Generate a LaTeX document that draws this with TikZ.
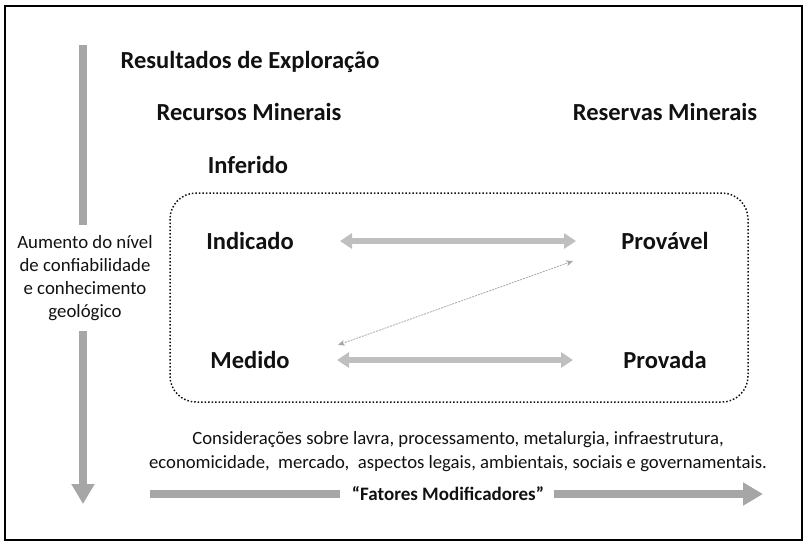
\documentclass[tikz,border=0pt]{standalone}
\usepackage{fontspec}
\setmainfont{Carlito}
\usetikzlibrary{arrows.meta}
\definecolor{arrowgray}{HTML}{A6A6A6}
\definecolor{lightgray}{HTML}{BFBFBF}
\definecolor{textdark}{HTML}{111111}
\begin{document}
\begin{tikzpicture}[x=1pt,y=-1pt,
  title/.style={font=\fontsize{24.5}{28}\selectfont\bfseries, text=textdark, inner sep=0pt},
  label/.style={font=\fontsize{18.8}{23}\selectfont, text=textdark, align=center, inner sep=0pt},
  bigarrow/.style={draw=arrowgray, line width=8pt, -{Triangle[length=20pt,width=22pt]}},
  bigbar/.style={draw=arrowgray, line width=8pt},
  dblarrow/.style={draw=lightgray, line width=6pt, {Triangle[length=12pt,width=15pt]}-{Triangle[length=12pt,width=15pt]}},
  thinarrow/.style={draw=arrowgray, line width=0.8pt, dashed, dash pattern=on 2pt off 1pt, {Stealth[length=7pt,width=6pt]}-{Stealth[length=7pt,width=6pt]}}
]
\useasboundingbox (0,0) rectangle (810,547);
\draw[line width=1.5pt, black] (5,6) rectangle (802,540);

% titles
\node[title] (res) at (250,62) {Resultados de Exploração};
\node[title] (rec) at (249,112) {Recursos Minerais};
\node[title] (rsv) at (665,112) {Reservas Minerais};
\node[title] (inf) at (248,165) {Inferido};

% dotted box
\draw[line width=1.5pt, dotted, rounded corners=26pt, textdark] (170,193) rectangle (748,402);

\node[title] (ind) at (250,241) {Indicado};
\node[title] (prv) at (665,241) {Provável};
\node[title] (med) at (250,360) {Medido};
\node[title] (pvd) at (665,360) {Provada};

\coordinate (a1) at (340,241);
\coordinate (a2) at (576,241);
\coordinate (b1) at (337,360);
\coordinate (b2) at (573,360);
\draw[dblarrow] (a1) -- (a2);
\draw[dblarrow] (b1) -- (b2);
\coordinate (c1) at (338,345);
\coordinate (c2) at (573,261);
\draw[thinarrow] (c1) -- (c2);

% left vertical arrow
\node[label] (conf) at (85,278) {Aumento do nível\\de confiabilidade\\e conhecimento\\geológico};
\coordinate (vtop) at (83,45);
\coordinate (vbot) at (83,504);
\draw[bigbar] (vtop) -- (83,225);
\draw[bigarrow] (83,331) -- (vbot);

% bottom text
\node[label, font=\fontsize{18.7}{24}\selectfont] (cons) at (458,452) {Considerações sobre lavra, processamento, metalurgia, infraestrutura,\\economicidade,\ \ mercado,\ \ aspectos legais, ambientais, sociais e governamentais.};

% bottom arrow
\node[title, font=\fontsize{19}{22}\selectfont\bfseries] (fat) at (448,494) {“Fatores Modificadores”};
\coordinate (hl) at (150,494);
\coordinate (hr) at (763,494);
\draw[bigbar] (hl) -- ([xshift=-12pt]fat.west);
\draw[bigarrow] ([xshift=10pt]fat.east) -- (hr);
\end{tikzpicture}
\end{document}
